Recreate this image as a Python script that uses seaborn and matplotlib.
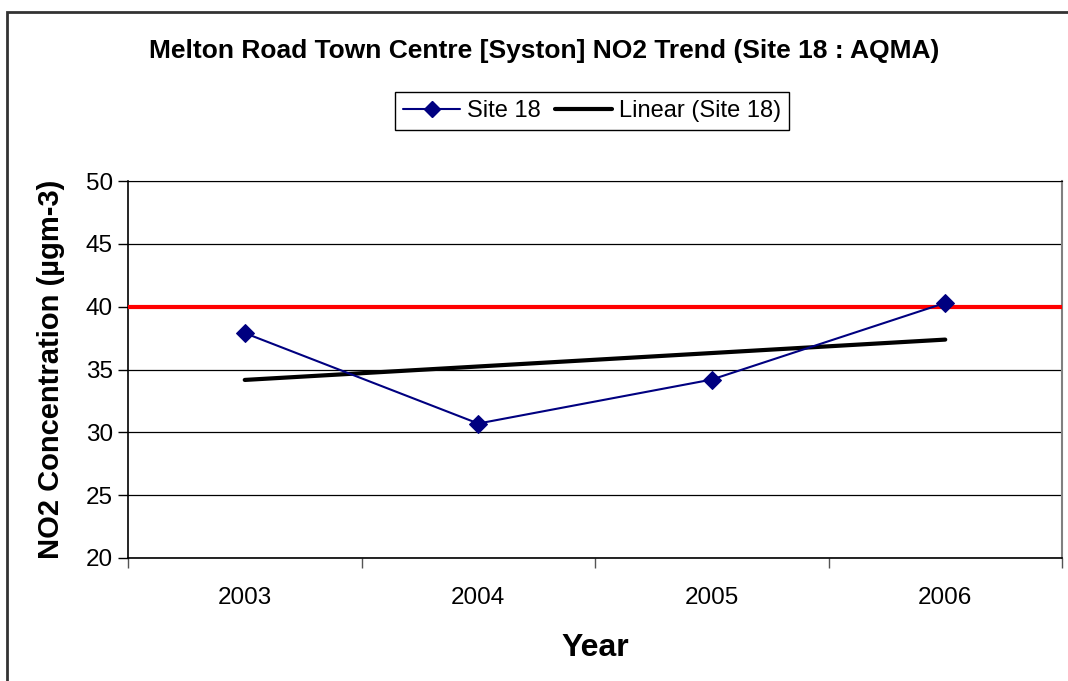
import numpy as np
import pandas as pd
import seaborn as sns
import matplotlib.pyplot as plt
from matplotlib.lines import Line2D
from matplotlib.patches import Rectangle
from matplotlib.ticker import FixedLocator, NullFormatter

# Data
years = ['2003', '2004', '2005', '2006']
site18 = [37.9, 30.7, 34.2, 40.3]
objective = 40

df = pd.DataFrame({'pos': np.arange(len(years)), 'year': years, 'no2': site18})

sns.set_style('white')
plt.rcParams['font.family'] = ['Liberation Sans', 'DejaVu Sans']
plt.rcParams['text.color'] = 'black'
plt.rcParams['axes.labelcolor'] = 'black'
plt.rcParams['xtick.color'] = 'black'
plt.rcParams['ytick.color'] = 'black'

fig = plt.figure(figsize=(10.68, 6.81), dpi=100)
ax = fig.add_axes([128 / 1068, 1 - 558 / 681, 934 / 1068, 377 / 681])

# gridlines
ax.set_ylim(20, 50)
ax.set_yticks(range(20, 51, 5))
ax.yaxis.grid(True, color='black', linewidth=0.9)
ax.set_axisbelow(True)

# air quality objective
ax.axhline(objective, color='#ff0000', linewidth=3, zorder=3)

# linear trend
sns.regplot(data=df, x='pos', y='no2', ax=ax, scatter=False, ci=None, truncate=True,
            line_kws={'color': 'black', 'linewidth': 3, 'zorder': 4})

# measured values
sns.lineplot(data=df, x='pos', y='no2', ax=ax, color='#000080', linewidth=1.5,
             marker='D', markersize=9, markeredgecolor='#000080', zorder=5)

ax.set_xlim(-0.5, len(years) - 0.5)
ax.xaxis.set_major_locator(FixedLocator(np.arange(-0.5, len(years), 1.0)))
ax.xaxis.set_major_formatter(NullFormatter())
ax.set_xticks(df['pos'], minor=True)
ax.set_xticklabels(years, minor=True)
ax.tick_params(axis='x', which='major', direction='out', length=7, width=1, color='#555555', bottom=True)
ax.tick_params(axis='x', which='minor', length=0, pad=21, labelsize=17.5)
ax.tick_params(axis='y', direction='out', length=7, width=1, left=True, labelsize=17.5, pad=4)

for side in ['left', 'bottom']:
    ax.spines[side].set_color('black')
    ax.spines[side].set_linewidth(1.2)
ax.spines['top'].set_color('black')
ax.spines['right'].set_color('#808080')
ax.spines['right'].set_linewidth(1.5)

ax.set_xlabel('Year', fontsize=23, fontweight='bold', labelpad=17)
ax.set_ylabel('NO2 Concentration (µgm-3)', fontsize=21, fontweight='bold')
ax.yaxis.set_label_coords((65 - 128) / 934, 0.5)

fig.text(0.51, 1 - 51 / 681, 'Melton Road Town Centre [Syston] NO2 Trend (Site 18 : AQMA)',
         ha='center', va='center', fontsize=19, fontweight='bold')

handles = [
    Line2D([], [], color='#000080', linewidth=1.5, marker='D', markersize=8, label='Site 18'),
    Line2D([], [], color='black', linewidth=3, label='Linear (Site 18)'),
]
fig.legend(handles=handles, loc='center', bbox_to_anchor=(592 / 1068, 1 - 111 / 681), ncol=2,
           fontsize=17, frameon=True, fancybox=False, edgecolor='black', framealpha=1,
           handlelength=2.4, handletextpad=0.3, columnspacing=0.6, borderpad=0.35)

# chart area border
fig.patches.append(Rectangle((7 / 1068, -0.01), 1.02, 1 - 12 / 681 + 0.01, transform=fig.transFigure,
                             fill=False, edgecolor='#333333', linewidth=2))

fig.savefig('out.png', dpi=100)
